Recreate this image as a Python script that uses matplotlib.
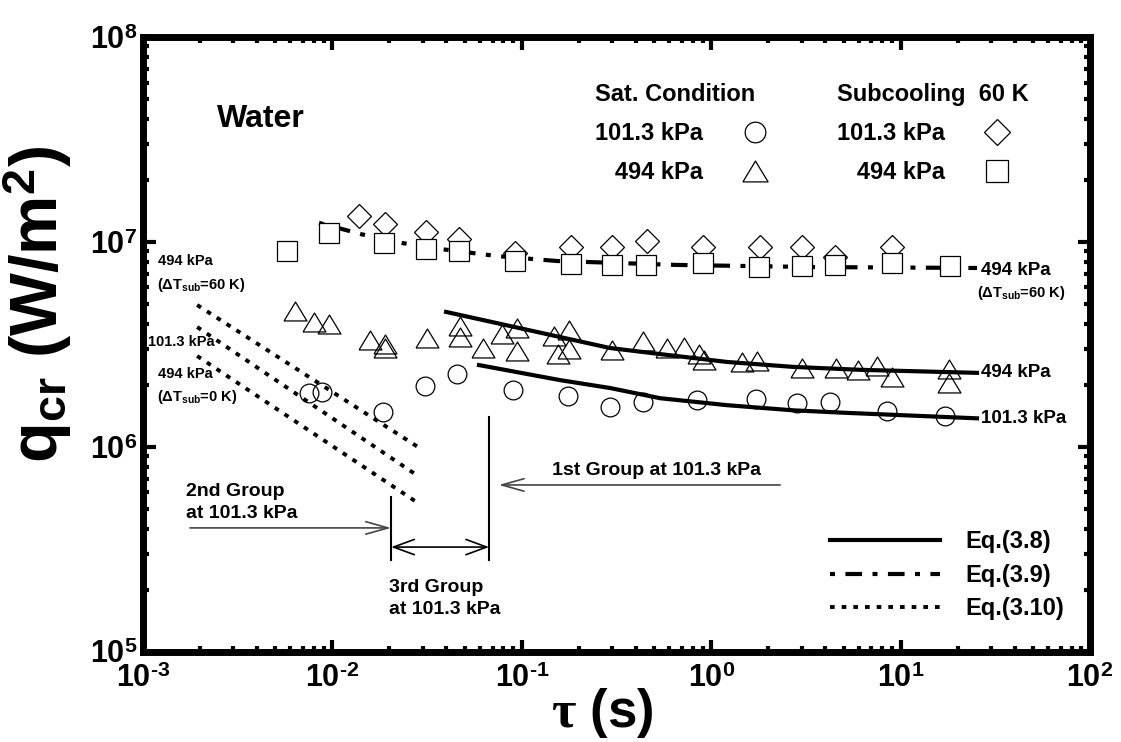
import numpy as np
import matplotlib
matplotlib.use("Agg")
import matplotlib.pyplot as plt
from matplotlib.ticker import LogLocator, FuncFormatter, NullFormatter

plt.rcParams['font.family'] = ['Liberation Sans', 'DejaVu Sans']
plt.rcParams['font.weight'] = 'bold'
plt.rcParams['axes.labelweight'] = 'bold'
plt.rcParams['mathtext.fontset'] = 'custom'
plt.rcParams['mathtext.rm'] = 'Liberation Sans:bold'
plt.rcParams['mathtext.bf'] = 'Liberation Sans:bold'
plt.rcParams['mathtext.it'] = 'Liberation Serif'

# Saturated condition, 101.3 kPa (circles)
sat101_tau = [0.0075, 0.0088, 0.0185, 0.0308, 0.0455, 0.090, 0.175, 0.292, 0.436, 0.84,
              1.73, 2.84, 4.24, 8.47, 17.1]
sat101_q = [1.83e6, 1.85e6, 1.48e6, 1.99e6, 2.27e6, 1.90e6, 1.77e6, 1.57e6, 1.66e6, 1.70e6,
            1.71e6, 1.64e6, 1.66e6, 1.50e6, 1.42e6]

# Saturated condition, 494 kPa (triangles)
sat494_tau = [0.00636, 0.0080, 0.0096, 0.0158, 0.019, 0.019, 0.0316, 0.0472, 0.0472, 0.0624,
              0.0785, 0.0944, 0.0944, 0.148, 0.177, 0.155, 0.177, 0.299, 0.436, 0.585,
              0.718, 0.863, 0.917, 1.455, 1.746, 3.01, 4.56, 5.96, 7.5, 9.0, 18.0, 18.0]
sat494_q = [4.61e6, 4.07e6, 3.98e6, 3.33e6, 3.18e6, 3.04e6, 3.40e6, 3.89e6, 3.44e6, 3.04e6,
            3.56e6, 3.80e6, 2.94e6, 3.48e6, 3.72e6, 2.84e6, 3.01e6, 2.97e6, 3.29e6, 3.04e6,
            3.07e6, 2.84e6, 2.66e6, 2.60e6, 2.63e6, 2.43e6, 2.43e6, 2.38e6, 2.48e6, 2.19e6,
            2.40e6, 2.05e6]

# Subcooling 60 K, 101.3 kPa (diamonds)
sub101_tau = [0.0138, 0.0189, 0.0312, 0.0466, 0.092, 0.182, 0.30, 0.46, 0.906, 1.80, 3.0, 4.5, 9.0]
sub101_q = [1.34e7, 1.22e7, 1.12e7, 1.035e7, 8.84e6, 9.46e6, 9.46e6, 1.01e7, 9.46e6, 9.46e6,
            9.46e6, 8.45e6, 9.46e6]

# Subcooling 60 K, 494 kPa (squares)
sub494_tau = [0.00575, 0.0096, 0.0187, 0.0312, 0.0466, 0.092, 0.182, 0.299, 0.453, 0.906,
              1.79, 3.01, 4.51, 9.0, 18.2]
sub494_q = [9.04e6, 1.11e7, 9.89e6, 9.25e6, 9.04e6, 8.08e6, 7.81e6, 7.73e6, 7.73e6, 7.90e6,
            7.55e6, 7.64e6, 7.73e6, 7.90e6, 7.64e6]

# Eq.(3.8) curves
eq38_494_tau = [0.0398, 0.159, 0.292, 0.537, 1.21, 2.70, 6.1, 25.3]
eq38_494_q = [4.56e6, 3.44e6, 3.04e6, 2.84e6, 2.60e6, 2.46e6, 2.38e6, 2.30e6]
eq38_101_tau = [0.0594, 0.159, 0.292, 0.537, 1.21, 2.70, 4.97, 25.3]
eq38_101_q = [2.51e6, 2.12e6, 1.94e6, 1.73e6, 1.60e6, 1.51e6, 1.47e6, 1.38e6]

# Eq.(3.9) curve
eq39_tau = [0.0085, 0.0143, 0.0233, 0.037, 0.074, 0.153, 0.659, 3.44, 25.3]
eq39_q = [1.24e7, 1.09e7, 9.89e6, 9.25e6, 8.54e6, 8.08e6, 7.73e6, 7.55e6, 7.47e6]

# Eq.(3.10) lines: 494 kPa (60 K), 101.3 kPa, 494 kPa (0 K)
eq310_tau = [0.00193, 0.0283]
eq310_q = [[4.93e6, 1.0e6], [3.85e6, 7.22e5], [2.78e6, 5.33e5]]

# group boundaries at 101.3 kPa
group_tau = [0.0204, 0.0672]

fig = plt.figure(figsize=(11.21, 7.42), dpi=100)
ax = fig.add_axes([0.1276, 0.1213, 0.8448, 0.8288])
ax.set_xscale('log')
ax.set_yscale('log')
ax.set_xlim(1e-3, 1e2)
ax.set_ylim(1e5, 1e8)

tri = [(-1, -0.826), (1, -0.826), (0, 0.826), (-1, -0.826)]
mk = dict(linestyle='none', markeredgecolor='k', markeredgewidth=0.9)

h38, = ax.plot(eq38_494_tau, eq38_494_q, color='k', lw=3, zorder=2)
ax.plot(eq38_101_tau, eq38_101_q, color='k', lw=3, zorder=2)
h39, = ax.plot(eq39_tau, eq39_q, color='k', lw=3, linestyle=(0, (1.2, 2.5, 4, 2.5)), zorder=2)
for qq in eq310_q:
    h310, = ax.plot(eq310_tau, qq, color='k', lw=2.8, linestyle=(0, (1.2, 1.8)), zorder=2)

hc, = ax.plot(sat101_tau, sat101_q, marker='o', ms=13.5, mfc='none', zorder=3, **mk)
ht, = ax.plot(sat494_tau, sat494_q, marker=tri, ms=16.5, mfc='none', zorder=3, **mk)
hd, = ax.plot(sub101_tau, sub101_q, marker='D', ms=12, mfc='white', zorder=3, **mk)
hs, = ax.plot(sub494_tau, sub494_q, marker='s', ms=14, mfc='white', zorder=4, **mk)


def dec_label(v, p):
    e = int(round(np.log10(v)))
    if e < 0:
        return '$10^{\u2010%d}$' % (-e)
    return '$10^{%d}$' % e


# axes styling
for s in ax.spines.values():
    s.set_linewidth(5)
for axis in (ax.xaxis, ax.yaxis):
    axis.set_major_locator(LogLocator(base=10, numticks=10))
    axis.set_minor_locator(LogLocator(base=10, subs=np.arange(2, 10), numticks=10))
    axis.set_major_formatter(FuncFormatter(dec_label))
    axis.set_minor_formatter(NullFormatter())
ax.tick_params(which='both', direction='in', top=True, right=True, width=3, labelsize=22)
ax.tick_params(which='major', length=9)
ax.tick_params(which='minor', length=4.5)
ax.tick_params(axis='x', pad=9)
ax.tick_params(axis='y', pad=4)

ax.set_xlabel(r'$\tau$ (s)', fontsize=38, fontweight='bold')
ax.xaxis.set_label_coords(0.485, -0.056)
ax.set_ylabel(r'q$_\mathrm{cr}$ (W/m$^\mathrm{2}$)', fontsize=48, fontweight='bold')
ax.yaxis.set_label_coords(-0.073, 0.565)

ax.text(0.078, 0.867, 'Water', transform=ax.transAxes, fontsize=23, va='center')

# top legends
lkw = dict(loc='upper left', frameon=False, markerfirst=False, handlelength=1.0,
           handletextpad=1.7, labelspacing=0.68, borderpad=0, borderaxespad=0,
           prop={'size': 17, 'weight': 'bold'}, alignment='left',
           title_fontproperties={'size': 17, 'weight': 'bold'}, markerscale=1.1)
leg1 = ax.legend([hc, ht], ['101.3 kPa', '   494 kPa'], title='Sat. Condition',
                 bbox_to_anchor=(0.477, 0.925), **lkw)
ax.add_artist(leg1)
leg2 = ax.legend([hd, hs], ['101.3 kPa', '   494 kPa'], title='Subcooling  60 K',
                 bbox_to_anchor=(0.733, 0.925), **lkw)
ax.add_artist(leg2)

# equation legend
ax.legend([h38, h39, h310], ['Eq.(3.8)', 'Eq.(3.9)', 'Eq.(3.10)'], loc='upper left',
          bbox_to_anchor=(0.725, 0.198), frameon=False, handlelength=4.66, handletextpad=1.1,
          labelspacing=0.45, borderpad=0, borderaxespad=0, prop={'size': 17, 'weight': 'bold'})

# line-end labels
ax.annotate('494 kPa', xy=(eq39_tau[-1], eq39_q[-1]), xytext=(3, -2), textcoords='offset points',
            va='center', fontsize=13.5)
ax.annotate(r'($\Delta$T$_\mathrm{sub}$=60 K)', xy=(eq39_tau[-1], eq39_q[-1]), xytext=(0, -18),
            textcoords='offset points', va='center', fontsize=10.5)
ax.annotate('494 kPa', xy=(eq38_494_tau[-1], eq38_494_q[-1]), xytext=(3, 0),
            textcoords='offset points', va='center', fontsize=13.5)
ax.annotate('101.3 kPa', xy=(eq38_101_tau[-1], eq38_101_q[-1]), xytext=(3, 0),
            textcoords='offset points', va='center', fontsize=13.5)

# labels for Eq.(3.10) lines
ax.text(1.2e-3, 8.07e6, '494 kPa', fontsize=10.5, va='center')
ax.text(1.185e-3, 6.17e6, r'($\Delta$T$_\mathrm{sub}$=60 K)', fontsize=10.5, va='center')
ax.text(1.06e-3, 3.25e6, '101.3 kPa', fontsize=10.5, va='center')
ax.text(1.2e-3, 2.27e6, '494 kPa', fontsize=10.5, va='center')
ax.text(1.185e-3, 1.75e6, r'($\Delta$T$_\mathrm{sub}$=0 K)', fontsize=10.5, va='center')

# group annotations
ax.plot([group_tau[1], group_tau[1]], [1.40e6, 2.81e5], color='k', lw=1.5)
ax.plot([group_tau[0], group_tau[0]], [5.7e5, 2.81e5], color='k', lw=1.5)
arr = dict(arrowstyle='->,head_length=1.6,head_width=0.45', color='#444444', lw=1.2,
           shrinkA=0, shrinkB=0)
ax.annotate('', xy=(0.0755, 6.53e5), xytext=(2.31, 6.53e5), arrowprops=arr)
ax.text(0.145, 7.0e5, '1st Group at 101.3 kPa', fontsize=14, va='bottom')
ax.annotate('', xy=(group_tau[0], 4.03e5), xytext=(1.77e-3, 4.03e5), arrowprops=arr)
ax.text(1.69e-3, 4.3e5, '2nd Group\nat 101.3 kPa', fontsize=14, va='bottom', linespacing=1.4)
ax.annotate('', xy=(group_tau[1], 3.25e5), xytext=(group_tau[0], 3.25e5),
            arrowprops=dict(arrowstyle='<->,head_length=1.5,head_width=0.55', color='k', lw=1.2,
                            shrinkA=0, shrinkB=0))
ax.text(0.0198, 2.28e5, '3rd Group\nat 101.3 kPa', fontsize=14, va='top', linespacing=1.4)

fig.savefig('out.png', dpi=100)
